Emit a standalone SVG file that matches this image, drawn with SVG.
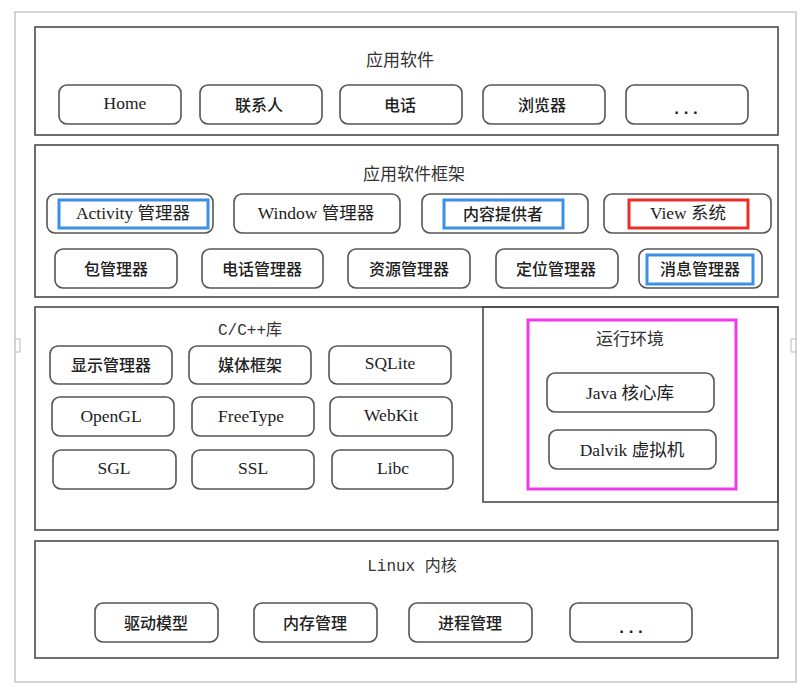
<svg xmlns="http://www.w3.org/2000/svg" width="800" height="692" viewBox="0 0 800 692">
<style>
.bg{fill:#ffffff}
.frame{fill:none;stroke:#b8b8b8;stroke-width:1.2}
.panel{fill:none;stroke:#4a4a4a;stroke-width:1.6}
.box{fill:#ffffff;stroke:#555555;stroke-width:1.6}
.hl-blue{fill:none;stroke:#3b8fe6;stroke-width:3}
.hl-red{fill:none;stroke:#e8302a;stroke-width:3}
.hl-mag{fill:none;stroke:#ee3ae8;stroke-width:3}
text{text-anchor:middle;dominant-baseline:central;fill:#222}
.t{font-family:"Liberation Serif","Noto Sans CJK SC",serif;font-size:17.5px}
.cn{font-family:"Noto Sans CJK SC",sans-serif;font-size:16px;font-weight:500}
.dots{font-family:"Liberation Sans",sans-serif;font-size:17px;font-weight:bold}
.title{font-family:"Noto Sans CJK SC",sans-serif;font-size:17px;fill:#333}
.mono{font-family:"Liberation Mono","Noto Sans CJK SC",monospace;font-size:16px;fill:#333}
</style>
<rect class="bg" x="0" y="0" width="800" height="692"/>
<g id="outer-frame">
<rect class="frame" x="15" y="12" width="781" height="670"/>
<path d="M15 339 h5 v13 h-5 M796 339 h-5 v13 h5" fill="none" stroke="#b8b8b8" stroke-width="1"/>
</g>
<g id="connectors"></g>

<g id="layer-apps">
<rect class="panel" x="35" y="27" width="743" height="108"/>
<text class="title" x="400" y="58">应用软件</text>
<g id="app-home"><rect class="box" x="59" y="85" width="122" height="39" rx="8"/><text class="t" x="125" y="103">Home</text></g>
<g id="app-contacts"><rect class="box" x="200" y="85" width="122" height="39" rx="8"/><text class="cn" x="259" y="104">联系人</text></g>
<g id="app-phone"><rect class="box" x="340" y="85" width="122" height="39" rx="8"/><text class="cn" x="400" y="104">电话</text></g>
<g id="app-browser"><rect class="box" x="483" y="85" width="122" height="39" rx="8"/><text class="cn" x="542" y="104">浏览器</text></g>
<g id="app-more"><rect class="box" x="626" y="85" width="122" height="39" rx="8"/><text class="dots" x="686" y="108">. . .</text></g>
</g>

<g id="layer-framework">
<rect class="panel" x="35" y="145" width="743" height="152"/>
<text class="title" x="414" y="172">应用软件框架</text>
<g id="fw-activity"><rect class="box" x="47" y="194" width="166" height="39" rx="8"/><rect class="hl-blue" x="59" y="200" width="149" height="28"/><text class="t" x="133" y="213">Activity 管理器</text></g>
<g id="fw-window"><rect class="box" x="234" y="194" width="166" height="39" rx="8"/><text class="t" x="316" y="213">Window 管理器</text></g>
<g id="fw-content"><rect class="box" x="422" y="194" width="166" height="39" rx="8"/><rect class="hl-blue" x="444" y="200" width="119" height="28"/><text class="cn" x="503" y="213">内容提供者</text></g>
<g id="fw-view"><rect class="box" x="604" y="194" width="167" height="39" rx="8"/><rect class="hl-red" x="629" y="200" width="119" height="28"/><text class="t" x="688" y="213">View 系统</text></g>
<g id="fw-package"><rect class="box" x="55" y="249" width="122" height="39" rx="8"/><text class="cn" x="116" y="268">包管理器</text></g>
<g id="fw-telephony"><rect class="box" x="202" y="249" width="121" height="39" rx="8"/><text class="cn" x="262" y="268">电话管理器</text></g>
<g id="fw-resource"><rect class="box" x="348" y="249" width="122" height="39" rx="8"/><text class="cn" x="409" y="268">资源管理器</text></g>
<g id="fw-location"><rect class="box" x="496" y="249" width="122" height="39" rx="8"/><text class="cn" x="556" y="268">定位管理器</text></g>
<g id="fw-notification"><rect class="box" x="639" y="249" width="123" height="39" rx="8"/><rect class="hl-blue" x="647" y="255" width="106" height="29"/><text class="cn" x="700" y="268">消息管理器</text></g>
</g>

<g id="layer-libs">
<rect class="panel" x="35" y="307" width="743" height="223"/>
<text class="mono" x="250" y="331">C/C++库</text>
<g id="lib-surface"><rect class="box" x="50" y="346" width="122" height="38" rx="8"/><text class="cn" x="111" y="364">显示管理器</text></g>
<g id="lib-media"><rect class="box" x="189" y="346" width="122" height="38" rx="8"/><text class="cn" x="250" y="364">媒体框架</text></g>
<g id="lib-sqlite"><rect class="box" x="329" y="346" width="122" height="38" rx="8"/><text class="t" x="390" y="363">SQLite</text></g>
<g id="lib-opengl"><rect class="box" x="52" y="397" width="122" height="39" rx="8"/><text class="t" x="111" y="416">OpenGL</text></g>
<g id="lib-freetype"><rect class="box" x="192" y="397" width="122" height="39" rx="8"/><text class="t" x="251" y="416">FreeType</text></g>
<g id="lib-webkit"><rect class="box" x="330" y="397" width="122" height="39" rx="8"/><text class="t" x="391" y="415">WebKit</text></g>
<g id="lib-sgl"><rect class="box" x="53" y="450" width="123" height="39" rx="8"/><text class="t" x="114" y="468">SGL</text></g>
<g id="lib-ssl"><rect class="box" x="192" y="450" width="122" height="39" rx="8"/><text class="t" x="253" y="468">SSL</text></g>
<g id="lib-libc"><rect class="box" x="332" y="450" width="121" height="39" rx="8"/><text class="t" x="393" y="468">Libc</text></g>
</g>

<g id="layer-runtime">
<rect class="panel" x="483" y="307" width="295" height="195"/>
<rect class="hl-mag" x="528" y="320" width="208" height="169"/>
<text class="title" x="630" y="337">运行环境</text>
<g id="rt-java"><rect class="box" x="547" y="373" width="167" height="39" rx="8"/><text class="t" x="630" y="393">Java 核心库</text></g>
<g id="rt-dalvik"><rect class="box" x="549" y="430" width="167" height="39" rx="8"/><text class="t" x="632" y="450">Dalvik 虚拟机</text></g>
</g>

<g id="layer-kernel">
<rect class="panel" x="35" y="541" width="743" height="117"/>
<text class="mono" x="412" y="567">Linux 内核</text>
<g id="k-driver"><rect class="box" x="95" y="603" width="123" height="39" rx="8"/><text class="cn" x="156" y="622">驱动模型</text></g>
<g id="k-memory"><rect class="box" x="254" y="603" width="123" height="39" rx="8"/><text class="cn" x="315" y="622">内存管理</text></g>
<g id="k-process"><rect class="box" x="409" y="603" width="123" height="39" rx="8"/><text class="cn" x="470" y="622">进程管理</text></g>
<g id="k-more"><rect class="box" x="570" y="603" width="122" height="39" rx="8"/><text class="dots" x="631" y="627">. . .</text></g>
</g>
</svg>
